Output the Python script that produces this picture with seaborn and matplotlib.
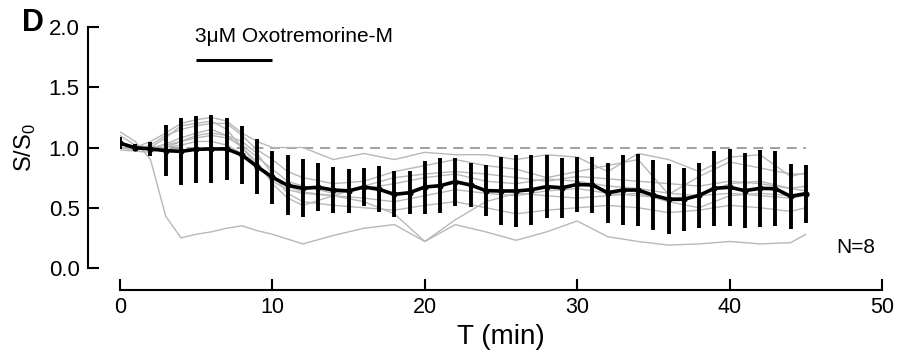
import numpy as np
import pandas as pd
import matplotlib
matplotlib.use("Agg")
import matplotlib.pyplot as plt
import seaborn as sns

# ---- data ----
t_mean = list(range(0, 46))
mean_vals = [1.035, 0.998, 0.988, 0.974, 0.968, 0.985, 0.988, 0.988, 0.938, 0.841,
             0.753, 0.686, 0.661, 0.670, 0.647, 0.640, 0.672, 0.653, 0.611, 0.625,
             0.672, 0.683, 0.716, 0.689, 0.642, 0.639, 0.639, 0.650, 0.675, 0.666,
             0.693, 0.689, 0.625, 0.647, 0.647, 0.603, 0.570, 0.570, 0.603, 0.661,
             0.670, 0.642, 0.661, 0.658, 0.595, 0.617]
sd_vals = [0.048, 0.030, 0.060, 0.210, 0.280, 0.280, 0.280, 0.260, 0.240, 0.230,
           0.220, 0.250, 0.240, 0.200, 0.190, 0.180, 0.160, 0.190, 0.190, 0.180,
           0.220, 0.230, 0.200, 0.185, 0.210, 0.280, 0.300, 0.290, 0.260, 0.250,
           0.225, 0.230, 0.250, 0.290, 0.300, 0.290, 0.290, 0.260, 0.270, 0.310,
           0.320, 0.310, 0.320, 0.310, 0.270, 0.240]

t_gray = [0, 1, 2, 3, 4, 5, 6, 7, 8, 9, 10, 11, 12, 14, 16, 18, 20, 22, 24, 26,
          28, 30, 32, 34, 36, 38, 40, 42, 44, 45]
trace1 = [1.13, 1.05, 0.90, 0.43, 0.25, 0.28, 0.30, 0.33, 0.35, 0.31, 0.28, 0.24, 0.20, 0.27,
          0.33, 0.36, 0.22, 0.36, 0.30, 0.23, 0.30, 0.39, 0.26, 0.22, 0.19, 0.20, 0.22, 0.20, 0.21, 0.28]
trace2 = [1.05, 1.00, 1.05, 1.12, 1.20, 1.23, 1.25, 1.22, 1.12, 1.05, 1.00, 1.00, 1.00, 0.90,
          0.95, 0.90, 0.96, 0.94, 0.94, 0.90, 0.94, 0.92, 0.80, 0.95, 0.90, 0.80, 0.92, 0.94, 0.76, 0.79]
trace3 = [1.00, 0.98, 1.02, 1.10, 1.15, 1.18, 1.20, 1.20, 1.10, 0.98, 0.90, 0.80, 0.75, 0.70,
          0.72, 0.80, 0.85, 0.90, 0.85, 0.82, 0.75, 0.80, 0.85, 0.90, 0.61, 0.76, 0.88, 0.83, 0.78, 0.78]
trace4 = [1.00, 0.99, 1.00, 1.08, 1.18, 1.20, 1.22, 1.15, 1.00, 0.85, 0.72, 0.65, 0.62, 0.60,
          0.55, 0.45, 0.22, 0.40, 0.55, 0.62, 0.60, 0.58, 0.60, 0.62, 0.55, 0.50, 0.60, 0.62, 0.60, 0.62]
trace5 = [1.05, 1.00, 0.98, 1.00, 1.05, 1.08, 1.10, 1.08, 1.02, 0.92, 0.82, 0.72, 0.68, 0.62,
          0.66, 0.70, 0.75, 0.78, 0.72, 0.70, 0.74, 0.72, 0.68, 0.66, 0.62, 0.60, 0.70, 0.72, 0.66, 0.64]
trace6 = [0.98, 0.97, 0.96, 1.00, 1.02, 1.05, 1.05, 1.02, 0.95, 0.85, 0.75, 0.68, 0.63, 0.60,
          0.58, 0.55, 0.60, 0.65, 0.62, 0.60, 0.64, 0.66, 0.62, 0.60, 0.58, 0.60, 0.62, 0.60, 0.58, 0.60]
trace7 = [1.10, 1.02, 1.00, 1.02, 1.05, 1.10, 1.12, 1.10, 1.05, 0.95, 0.78, 0.62, 0.55, 0.52,
          0.50, 0.48, 0.52, 0.55, 0.50, 0.45, 0.48, 0.50, 0.52, 0.50, 0.46, 0.48, 0.52, 0.50, 0.47, 0.50]
trace8 = [1.00, 0.98, 0.99, 1.03, 1.08, 1.12, 1.15, 1.10, 1.00, 0.88, 0.70, 0.58, 0.52, 0.60,
          0.68, 0.75, 0.78, 0.80, 0.78, 0.75, 0.72, 0.76, 0.74, 0.72, 0.70, 0.68, 0.72, 0.70, 0.66, 0.68]
traces = [trace1, trace2, trace3, trace4, trace5, trace6, trace7, trace8]

x_ticks = [0, 10, 20, 30, 40, 50]
y_ticks = [0.0, 0.5, 1.0, 1.5, 2.0]
drug_label = "3\u03bcM Oxotremorine-M"
drug_start, drug_end = 5, 10
baseline = 1.0
n_label = "N=8"

# ---- style ----
sns.set_theme(style="white")
plt.rcParams['font.family'] = ['Liberation Sans', 'DejaVu Sans']
plt.rcParams['mathtext.fontset'] = 'custom'
plt.rcParams['mathtext.rm'] = 'Liberation Sans'
plt.rcParams['text.color'] = 'black'
plt.rcParams['axes.labelcolor'] = 'black'

fig = plt.figure(figsize=(9.04, 3.57), dpi=100)
ax = fig.add_axes([120 / 904, 1 - 268 / 357, 762 / 904, 241 / 357])

gray_df = pd.DataFrame({
    "t": np.tile(t_gray, len(traces)),
    "v": np.concatenate(traces),
    "cell": np.repeat(np.arange(len(traces)), len(t_gray)),
})
sns.lineplot(data=gray_df, x="t", y="v", units="cell", estimator=None,
             color="#b8b8b8", lw=1.0, ax=ax, zorder=1)

ax.plot([0, 45], [baseline, baseline], color="#909090", lw=1.2,
        dashes=(6, 4), zorder=0.5)

ax.errorbar(t_mean, mean_vals, yerr=sd_vals, fmt="none", ecolor="black",
            elinewidth=2.8, capsize=0, zorder=2)
mean_df = pd.DataFrame({"t": t_mean, "v": mean_vals})
sns.lineplot(data=mean_df, x="t", y="v", color="black", lw=2.6, marker="o",
             markersize=4.5, markeredgewidth=0, ax=ax, zorder=3)

# drug bar and label
ax.plot([drug_start, drug_end], [1.73, 1.73], color="black", lw=2.2,
        solid_capstyle="butt", clip_on=False)
ax.text(drug_start - 0.1, 1.92, drug_label, fontsize=15, ha="left", va="center",
        color="black")
ax.text(47.0, 0.17, n_label, fontsize=15, ha="left", va="center", color="black")

ax.set_xlim(0, 50)
ax.set_ylim(0, 2.0)

for s in ["top", "right"]:
    ax.spines[s].set_visible(False)
ax.spines["left"].set_position(("outward", 23))
ax.spines["bottom"].set_position(("outward", 16))
for s in ["left", "bottom"]:
    ax.spines[s].set_color("black")
    ax.spines[s].set_linewidth(1.5)
ax.tick_params(axis="both", direction="in", length=8, width=1.5,
               colors="black", left=True, bottom=True)
ax.tick_params(axis="x", labelsize=15.5, pad=5)
ax.tick_params(axis="y", labelsize=16, pad=6)

ax.set_xticks(x_ticks)
ax.set_yticks(y_ticks)
ax.set_yticklabels([f"{v:.1f}" for v in y_ticks])
ax.set_xticklabels([str(v) for v in x_ticks])
ax.set_xlabel("T (min)", fontsize=20, labelpad=4, color="black")
ax.set_ylabel(r"S/S$_{\mathregular{0}}$", fontsize=17, labelpad=8, color="black")

fig.text(22 / 904, 1 - 23 / 357, "D", fontsize=22, fontweight="bold",
         ha="left", va="center", color="black")

fig.savefig("out.png", dpi=100)
